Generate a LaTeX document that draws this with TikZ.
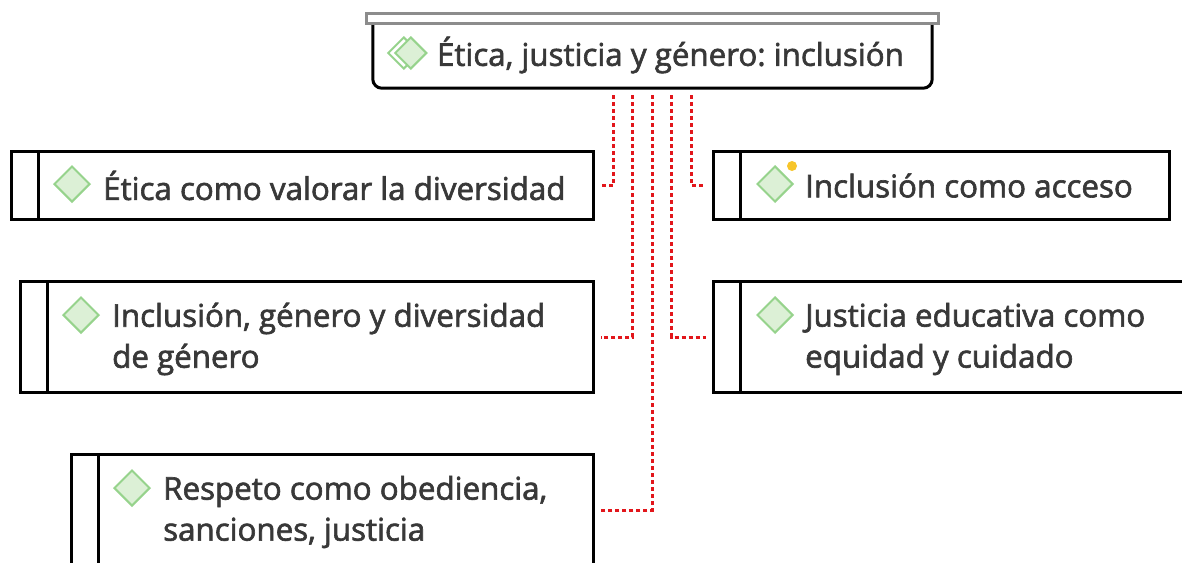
\documentclass[tikz,border=0pt]{standalone}
\usepackage{fontspec}
\setmainfont{Open Sans}[FakeBold=2]
\usetikzlibrary{shapes.geometric}
\definecolor{txtgray}{HTML}{383838}
\definecolor{leafline}{HTML}{96D38C}
\definecolor{leaffill}{HTML}{DCF0D6}
\definecolor{linkred}{HTML}{E2161B}
\definecolor{bargray}{HTML}{8C8C8C}
\definecolor{dotgold}{HTML}{F7C52A}
\newcommand{\topicfont}{\frenchspacing\fontsize{31.3}{41}\selectfont}
\tikzset{
  topic/.style={draw=black, line width=3pt, fill=white, anchor=north west, inner sep=0pt,
    path picture={\draw[line width=2.5pt] ([xshift=27pt]path picture bounding box.north west) -- ([xshift=27pt]path picture bounding box.south west);}},
  topictext/.style={font=\topicfont, text=txtgray, align=left, anchor=west, inner sep=0pt},
  leaf/.style={diamond, draw=leafline, fill=leaffill, line width=2pt, minimum size=36pt, inner sep=0pt},
  link/.style={draw=linkred, line width=3pt, dash pattern=on 4pt off 3pt, shorten <=7pt, shorten >=6pt}
}
\begin{document}
\begin{tikzpicture}[x=1pt,y=-1pt]
                \useasboundingbox (0,0) rectangle (1182,562);
                \clip (0,0) rectangle (1182,562);
                \fill[white] (0,0) rectangle (1182,562);
                % central topic
                \node[minimum width=559pt, minimum height=64pt, inner sep=0pt] (root) at (652.5,56) {};
                \draw[line width=3pt, rounded corners=9pt] (root.north west) |- (root.south east) -- (root.north east);
                \draw[bargray, line width=3pt, fill=white] ([xshift=-6pt,yshift=10pt]root.north west) rectangle ([xshift=6pt]root.north east);
                \node[leaf, minimum size=32pt, fill=white] (rootback) at ([xshift=31pt,yshift=3pt]root.west) {};
                \node[leaf, minimum size=32pt] (rootleaf) at ([xshift=38pt,yshift=3pt]root.west) {};
                \node[topictext] (roottext) at ([xshift=64pt,yshift=1pt]root.west) {Ética, justicia y género: inclusión};
                % subtopics
                \node[topic, minimum width=582pt, minimum height=68pt] (c1) at (10,150) {};
                \node[topic, minimum width=456pt, minimum height=68pt] (c2) at (712,150) {};
                \node[topic, minimum width=573pt, minimum height=111pt] (c3) at (19,280) {};
                \node[topic, minimum width=480pt, minimum height=111pt] (c4) at (712,280) {};
                \node[topic, minimum width=522pt, minimum height=111pt] (c5) at (70,453) {};
                \node[leaf] (d1) at ([xshift=62pt,yshift=-34pt]c1.north west) {};
                \node[leaf] (d2) at ([xshift=63pt,yshift=-34pt]c2.north west) {};
                \node[leaf] (d3) at ([xshift=62pt,yshift=-35pt]c3.north west) {};
                \node[leaf] (d4) at ([xshift=63pt,yshift=-35pt]c4.north west) {};
                \node[leaf] (d5) at ([xshift=62pt,yshift=-35pt]c5.north west) {};
                \node[circle, fill=dotgold, minimum size=10pt, inner sep=0pt] (mark2) at ([xshift=17pt,yshift=18pt]d2.center) {};
                \node[topictext] (t1) at ([xshift=93pt]c1.west) {Ética como valorar la diversidad};
                \node[topictext] (t2) at ([xshift=93pt]c2.west) {Inclusión como acceso};
                \node[topictext] (t3) at ([xshift=93pt,yshift=-2pt]c3.west) {Inclusión, género y diversidad\\de género};
                \node[topictext] (t4) at ([xshift=93pt,yshift=-2pt]c4.west) {Justicia educativa como\\equidad y cuidado};
                \node[topictext] (t5) at ([xshift=93pt,yshift=-2pt]c5.west) {Respeto como obediencia,\\sanciones, justicia};
                % links
                \draw[link] ([xshift=-39pt]root.south) |- (c1.east);
                \draw[link] ([xshift=-20pt]root.south) |- (c3.east);
                \draw[link] (root.south) |- (c5.east);
                \draw[link] ([xshift=19pt]root.south) |- (c4.west);
                \draw[link] ([xshift=39pt]root.south) |- (c2.west);
\end{tikzpicture}
\end{document}
